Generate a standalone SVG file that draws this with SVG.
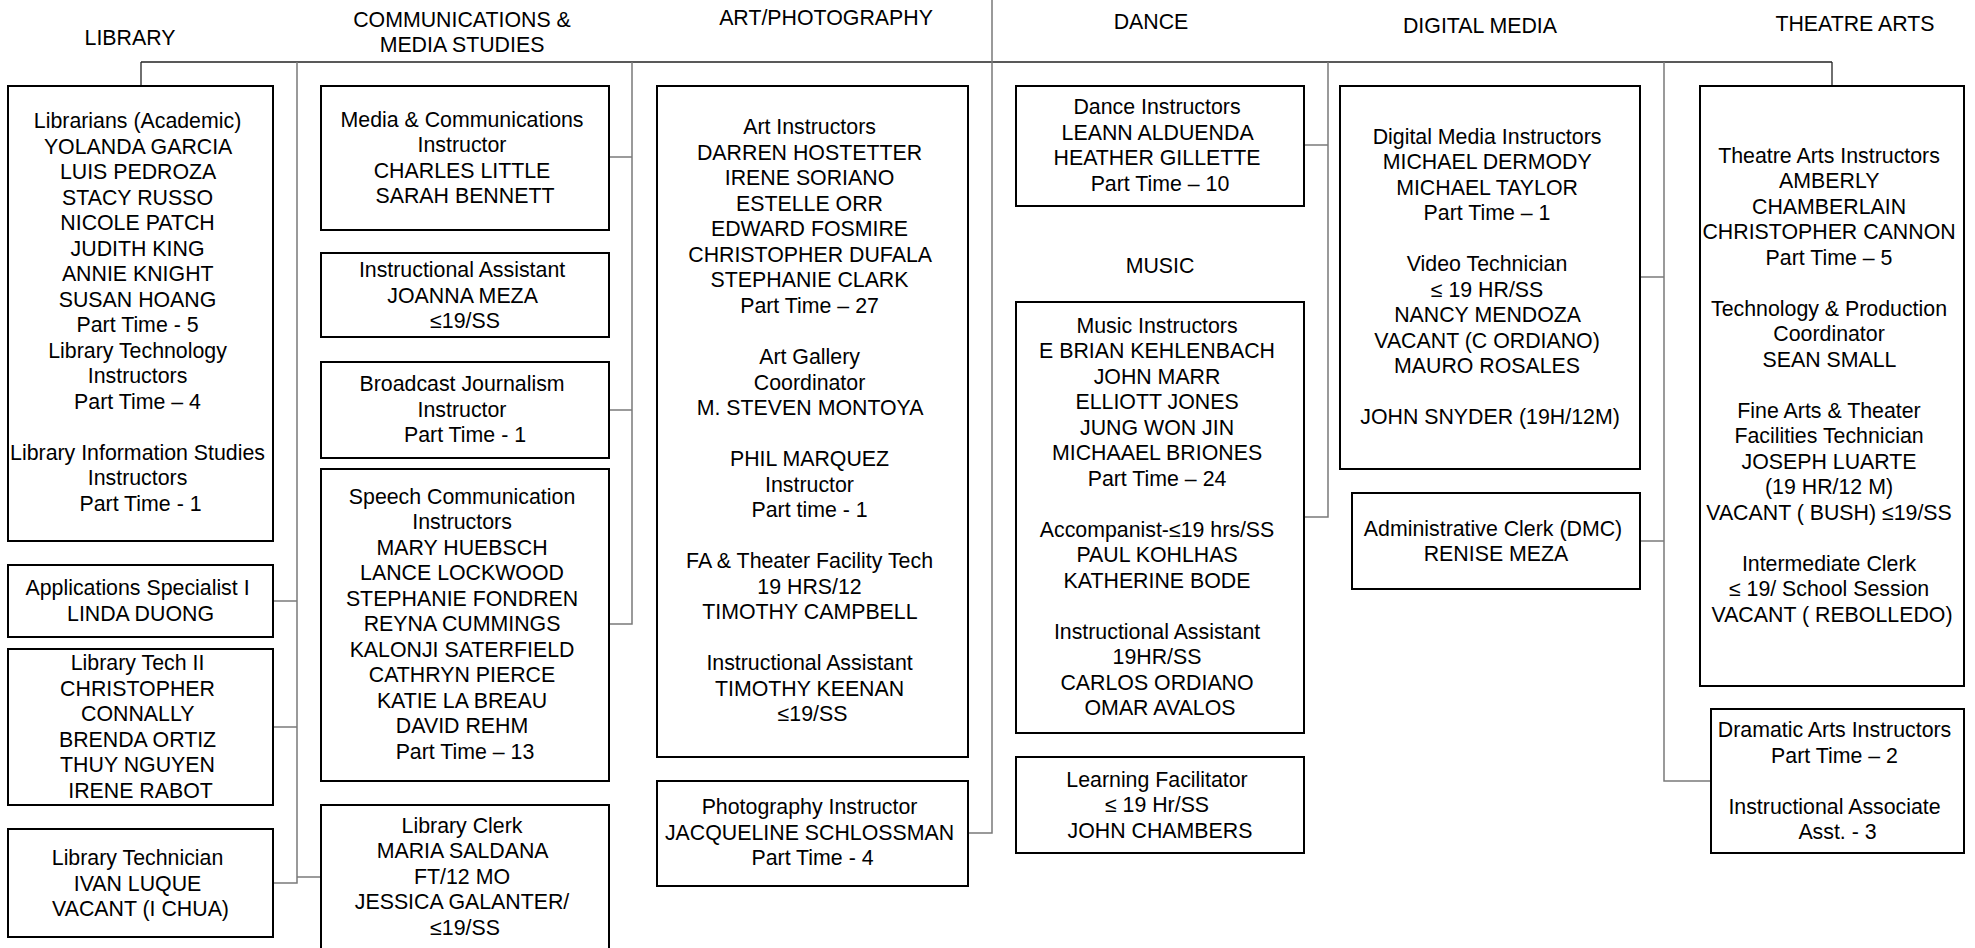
<svg xmlns="http://www.w3.org/2000/svg" width="1975" height="948" viewBox="0 0 1975 948">
<style>
  .box { fill: #ffffff; stroke: #000000; stroke-width: 2; }
  .t { font-family: "Liberation Sans", Arial, sans-serif; font-size: 21.33px; fill: #000000; text-anchor: middle; }
  .bus { fill: none; stroke: #7a7a7a; stroke-width: 1.5; }
  .top { fill: none; stroke: #222222; stroke-width: 1.3; }
</style>
<rect x="0" y="0" width="1975" height="948" fill="#ffffff"/>

<g id="headers">
  <text class="t" x="130" y="45">LIBRARY</text>
  <text class="t" x="462" y="27">COMMUNICATIONS &amp;</text>
  <text class="t" x="462" y="52">MEDIA STUDIES</text>
  <text class="t" x="826" y="25">ART/PHOTOGRAPHY</text>
  <text class="t" x="1151" y="29">DANCE</text>
  <text class="t" x="1160" y="273">MUSIC</text>
  <text class="t" x="1480" y="33">DIGITAL MEDIA</text>
  <text class="t" x="1855" y="31">THEATRE ARTS</text>
</g>

<g id="connectors">
  <path class="top" d="M141,62 H1832"/>
  <path class="top" d="M141,62 V86"/>
  <path class="top" d="M1832,62 V86"/>
  <path class="bus" d="M992,0 V833 H968"/>
  <path class="bus" d="M297,62 V883 H273"/>
  <path class="bus" d="M273,601 H297"/>
  <path class="bus" d="M273,727 H297"/>
  <path class="bus" d="M297,877 H321"/>
  <path class="bus" d="M632,62 V624 H609"/>
  <path class="bus" d="M609,157 H632"/>
  <path class="bus" d="M609,410 H632"/>
  <path class="bus" d="M1328,62 V517 H1304"/>
  <path class="bus" d="M1304,145 H1328"/>
  <path class="bus" d="M1664,62 V781 H1711"/>
  <path class="bus" d="M1640,277 H1664"/>
  <path class="bus" d="M1640,541 H1664"/>
</g>

<g id="librarians">
  <rect class="box" x="8" y="86" width="265" height="455"/>
  <text class="t">
    <tspan x="140.5" y="128">Librarians (Academic)</tspan>
    <tspan x="140.5" y="153.5">YOLANDA GARCIA</tspan>
    <tspan x="140.5" y="179">LUIS PEDROZA</tspan>
    <tspan x="140.5" y="204.5">STACY RUSSO</tspan>
    <tspan x="140.5" y="230">NICOLE PATCH</tspan>
    <tspan x="140.5" y="255.5">JUDITH KING</tspan>
    <tspan x="140.5" y="281">ANNIE KNIGHT</tspan>
    <tspan x="140.5" y="306.5">SUSAN HOANG</tspan>
    <tspan x="140.5" y="332">Part Time - 5</tspan>
    <tspan x="140.5" y="357.5">Library Technology</tspan>
    <tspan x="140.5" y="383">Instructors</tspan>
    <tspan x="140.5" y="408.5">Part Time – 4</tspan>
    <tspan x="140.5" y="459.5">Library Information Studies</tspan>
    <tspan x="140.5" y="485">Instructors</tspan>
    <tspan x="140.5" y="510.5">Part Time - 1</tspan>
  </text>
</g>

<g id="applications-specialist">
  <rect class="box" x="8" y="565" width="265" height="72"/>
  <text class="t">
    <tspan x="140.5" y="595">Applications Specialist I</tspan>
    <tspan x="140.5" y="621">LINDA DUONG</tspan>
  </text>
</g>

<g id="library-tech-ii">
  <rect class="box" x="8" y="649" width="265" height="156"/>
  <text class="t">
    <tspan x="140.5" y="670">Library Tech II</tspan>
    <tspan x="140.5" y="695.5">CHRISTOPHER</tspan>
    <tspan x="140.5" y="721">CONNALLY</tspan>
    <tspan x="140.5" y="746.5">BRENDA ORTIZ</tspan>
    <tspan x="140.5" y="772">THUY NGUYEN</tspan>
    <tspan x="140.5" y="797.5">IRENE RABOT</tspan>
  </text>
</g>

<g id="library-technician">
  <rect class="box" x="8" y="829" width="265" height="108"/>
  <text class="t">
    <tspan x="140.5" y="865">Library Technician</tspan>
    <tspan x="140.5" y="890.5">IVAN LUQUE</tspan>
    <tspan x="140.5" y="916">VACANT (I CHUA)</tspan>
  </text>
</g>

<g id="media-communications">
  <rect class="box" x="321" y="86" width="288" height="144"/>
  <text class="t">
    <tspan x="465" y="126.5">Media &amp; Communications</tspan>
    <tspan x="465" y="152">Instructor</tspan>
    <tspan x="465" y="177.5">CHARLES LITTLE</tspan>
    <tspan x="465" y="203">SARAH BENNETT</tspan>
  </text>
</g>

<g id="comm-instructional-assistant">
  <rect class="box" x="321" y="253" width="288" height="84"/>
  <text class="t">
    <tspan x="465" y="277">Instructional Assistant</tspan>
    <tspan x="465" y="302.5">JOANNA MEZA</tspan>
    <tspan x="465" y="328">≤19/SS</tspan>
  </text>
</g>

<g id="broadcast-journalism">
  <rect class="box" x="321" y="362" width="288" height="96"/>
  <text class="t">
    <tspan x="465" y="391">Broadcast Journalism</tspan>
    <tspan x="465" y="416.5">Instructor</tspan>
    <tspan x="465" y="442">Part Time - 1</tspan>
  </text>
</g>

<g id="speech-communication">
  <rect class="box" x="321" y="469" width="288" height="312"/>
  <text class="t">
    <tspan x="465" y="503.5">Speech Communication</tspan>
    <tspan x="465" y="529">Instructors</tspan>
    <tspan x="465" y="554.5">MARY HUEBSCH</tspan>
    <tspan x="465" y="580">LANCE LOCKWOOD</tspan>
    <tspan x="465" y="605.5">STEPHANIE FONDREN</tspan>
    <tspan x="465" y="631">REYNA CUMMINGS</tspan>
    <tspan x="465" y="656.5">KALONJI SATERFIELD</tspan>
    <tspan x="465" y="682">CATHRYN PIERCE</tspan>
    <tspan x="465" y="707.5">KATIE LA BREAU</tspan>
    <tspan x="465" y="733">DAVID REHM</tspan>
    <tspan x="465" y="758.5">Part Time – 13</tspan>
  </text>
</g>

<g id="library-clerk">
  <rect class="box" x="321" y="805" width="288" height="150"/>
  <text class="t">
    <tspan x="465" y="832.5">Library Clerk</tspan>
    <tspan x="465" y="858">MARIA SALDANA</tspan>
    <tspan x="465" y="883.5">FT/12 MO</tspan>
    <tspan x="465" y="909">JESSICA GALANTER/</tspan>
    <tspan x="465" y="934.5">≤19/SS</tspan>
  </text>
</g>

<g id="art-instructors">
  <rect class="box" x="657" y="86" width="311" height="671"/>
  <text class="t">
    <tspan x="812.5" y="134">Art Instructors</tspan>
    <tspan x="812.5" y="159.5">DARREN HOSTETTER</tspan>
    <tspan x="812.5" y="185">IRENE SORIANO</tspan>
    <tspan x="812.5" y="210.5">ESTELLE ORR</tspan>
    <tspan x="812.5" y="236">EDWARD FOSMIRE</tspan>
    <tspan x="812.5" y="261.5">CHRISTOPHER DUFALA</tspan>
    <tspan x="812.5" y="287">STEPHANIE CLARK</tspan>
    <tspan x="812.5" y="312.5">Part Time – 27</tspan>
    <tspan x="812.5" y="364">Art Gallery</tspan>
    <tspan x="812.5" y="389.5">Coordinator</tspan>
    <tspan x="812.5" y="415">M. STEVEN MONTOYA</tspan>
    <tspan x="812.5" y="466">PHIL MARQUEZ</tspan>
    <tspan x="812.5" y="491.5">Instructor</tspan>
    <tspan x="812.5" y="517">Part time - 1</tspan>
    <tspan x="812.5" y="568">FA &amp; Theater Facility Tech</tspan>
    <tspan x="812.5" y="593.5">19 HRS/12</tspan>
    <tspan x="812.5" y="619">TIMOTHY CAMPBELL</tspan>
    <tspan x="812.5" y="670">Instructional Assistant</tspan>
    <tspan x="812.5" y="695.5">TIMOTHY KEENAN</tspan>
    <tspan x="812.5" y="721">≤19/SS</tspan>
  </text>
</g>

<g id="photography-instructor">
  <rect class="box" x="657" y="781" width="311" height="105"/>
  <text class="t">
    <tspan x="812.5" y="814">Photography Instructor</tspan>
    <tspan x="812.5" y="839.5">JACQUELINE SCHLOSSMAN</tspan>
    <tspan x="812.5" y="865">Part Time - 4</tspan>
  </text>
</g>

<g id="dance-instructors">
  <rect class="box" x="1016" y="86" width="288" height="120"/>
  <text class="t">
    <tspan x="1160" y="114">Dance Instructors</tspan>
    <tspan x="1160" y="139.5">LEANN ALDUENDA</tspan>
    <tspan x="1160" y="165">HEATHER GILLETTE</tspan>
    <tspan x="1160" y="190.5">Part Time – 10</tspan>
  </text>
</g>

<g id="music-instructors">
  <rect class="box" x="1016" y="302" width="288" height="431"/>
  <text class="t">
    <tspan x="1160" y="332.5">Music Instructors</tspan>
    <tspan x="1160" y="358">E BRIAN KEHLENBACH</tspan>
    <tspan x="1160" y="383.5">JOHN MARR</tspan>
    <tspan x="1160" y="409">ELLIOTT JONES</tspan>
    <tspan x="1160" y="434.5">JUNG WON JIN</tspan>
    <tspan x="1160" y="460">MICHAAEL BRIONES</tspan>
    <tspan x="1160" y="485.5">Part Time – 24</tspan>
    <tspan x="1160" y="536.5">Accompanist-≤19 hrs/SS</tspan>
    <tspan x="1160" y="562">PAUL KOHLHAS</tspan>
    <tspan x="1160" y="587.5">KATHERINE BODE</tspan>
    <tspan x="1160" y="638.5">Instructional Assistant</tspan>
    <tspan x="1160" y="664">19HR/SS</tspan>
    <tspan x="1160" y="689.5">CARLOS ORDIANO</tspan>
    <tspan x="1160" y="715">OMAR AVALOS</tspan>
  </text>
</g>

<g id="learning-facilitator">
  <rect class="box" x="1016" y="757" width="288" height="96"/>
  <text class="t">
    <tspan x="1160" y="787">Learning Facilitator</tspan>
    <tspan x="1160" y="812">≤ 19 Hr/SS</tspan>
    <tspan x="1160" y="837.5">JOHN CHAMBERS</tspan>
  </text>
</g>

<g id="digital-media-instructors">
  <rect class="box" x="1340" y="86" width="300" height="383"/>
  <text class="t">
    <tspan x="1490" y="143.5">Digital Media Instructors</tspan>
    <tspan x="1490" y="169">MICHAEL DERMODY</tspan>
    <tspan x="1490" y="194.5">MICHAEL TAYLOR</tspan>
    <tspan x="1490" y="220">Part Time – 1</tspan>
    <tspan x="1490" y="271">Video Technician</tspan>
    <tspan x="1490" y="296.5">≤ 19 HR/SS</tspan>
    <tspan x="1490" y="322">NANCY MENDOZA</tspan>
    <tspan x="1490" y="347.5">VACANT (C ORDIANO)</tspan>
    <tspan x="1490" y="373">MAURO ROSALES</tspan>
    <tspan x="1490" y="424">JOHN SNYDER (19H/12M)</tspan>
  </text>
</g>

<g id="administrative-clerk">
  <rect class="box" x="1352" y="493" width="288" height="96"/>
  <text class="t">
    <tspan x="1496" y="536">Administrative Clerk (DMC)</tspan>
    <tspan x="1496" y="561">RENISE MEZA</tspan>
  </text>
</g>

<g id="theatre-arts-instructors">
  <rect class="box" x="1700" y="86" width="264" height="600"/>
  <text class="t">
    <tspan x="1832" y="162.5">Theatre Arts Instructors</tspan>
    <tspan x="1832" y="188">AMBERLY</tspan>
    <tspan x="1832" y="213.5">CHAMBERLAIN</tspan>
    <tspan x="1832" y="239">CHRISTOPHER CANNON</tspan>
    <tspan x="1832" y="264.5">Part Time – 5</tspan>
    <tspan x="1832" y="315.5">Technology &amp; Production</tspan>
    <tspan x="1832" y="341">Coordinator</tspan>
    <tspan x="1832" y="366.5">SEAN SMALL</tspan>
    <tspan x="1832" y="417.5">Fine Arts &amp; Theater</tspan>
    <tspan x="1832" y="443">Facilities Technician</tspan>
    <tspan x="1832" y="468.5">JOSEPH LUARTE</tspan>
    <tspan x="1832" y="494">(19 HR/12 M)</tspan>
    <tspan x="1832" y="519.5">VACANT ( BUSH) ≤19/SS</tspan>
    <tspan x="1832" y="570.5">Intermediate Clerk</tspan>
    <tspan x="1832" y="596">≤ 19/ School Session</tspan>
    <tspan x="1832" y="621.5">VACANT ( REBOLLEDO)</tspan>
  </text>
</g>

<g id="dramatic-arts-instructors">
  <rect class="box" x="1711" y="709" width="253" height="144"/>
  <text class="t">
    <tspan x="1837.5" y="737">Dramatic Arts Instructors</tspan>
    <tspan x="1837.5" y="762.5">Part Time – 2</tspan>
    <tspan x="1837.5" y="813.5">Instructional Associate</tspan>
    <tspan x="1837.5" y="839">Asst. - 3</tspan>
  </text>
</g>
</svg>
